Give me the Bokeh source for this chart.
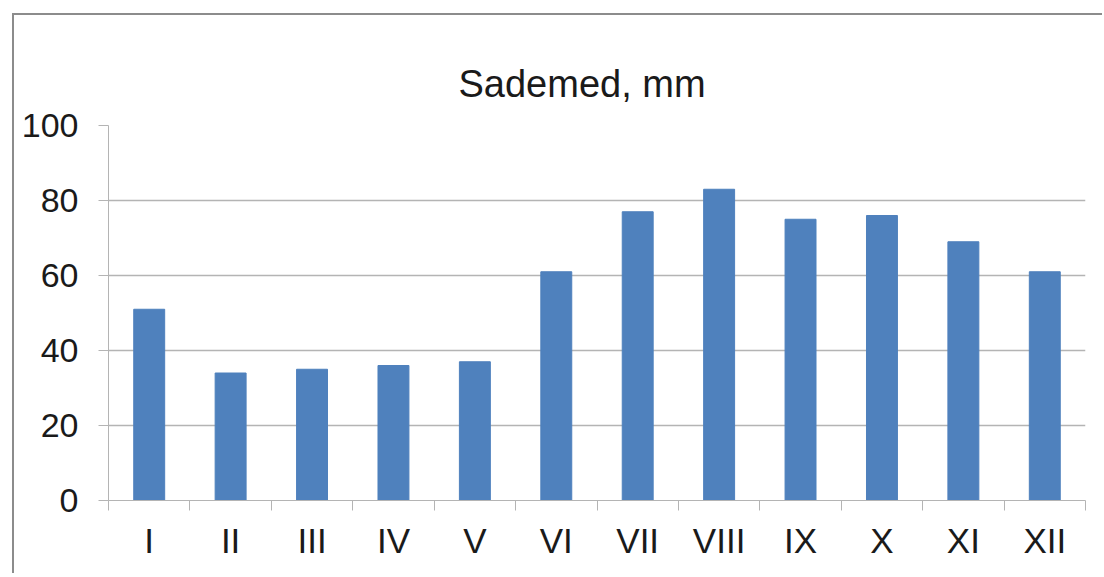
from bokeh.plotting import figure
from bokeh.models import Range1d, FixedTicker, Title
from bokeh.embed import file_html
from bokeh.resources import INLINE

categories = ["I", "II", "III", "IV", "V", "VI", "VII", "VIII", "IX", "X", "XI", "XII"]
values = [51, 34, 35, 36, 37, 61, 77, 83, 75, 76, 69, 61]
y_ticks = [0, 20, 40, 60, 80, 100]
title_text = "Sademed, mm"

FONT = "Liberation Sans"
TEXT = "#1a1a1a"
GRID = "#b4b4b4"

n = len(categories)
xs = [i + 0.5 for i in range(n)]

p = figure(width=1090, height=560, output_backend="svg", toolbar_location=None,
           x_range=Range1d(0, n), y_range=Range1d(0, 100),
           min_border_left=94, min_border_right=19, min_border_top=110,
           min_border_bottom=75, outline_line_color=None)
p.styles = {"border-top": "2px solid #8c8c8c", "border-left": "2px solid #8c8c8c",
            "margin-left": "12px", "margin-top": "13px"}

t = Title(text=title_text, align="left", text_font=FONT, text_font_size="38px",
          text_font_style="normal", text_color=TEXT, standoff=42, offset=350)
p.add_layout(t, "above")

p.vbar(x=xs, top=values, width=0.38, color="#4f81bd")

# x axis: labels at centers, tick marks at category boundaries
p.xaxis.ticker = FixedTicker(ticks=xs, minor_ticks=list(range(n + 1)))
p.xaxis.major_label_overrides = {x: c for x, c in zip(xs, categories)}
p.xaxis.major_tick_line_color = None
p.xaxis.minor_tick_in = 0
p.xaxis.minor_tick_out = 10
p.xaxis.minor_tick_line_color = GRID
p.xaxis.axis_line_color = GRID
p.xaxis.major_label_text_font = FONT
p.xaxis.major_label_text_font_size = "35px"
p.xaxis.major_label_text_color = TEXT
p.xaxis.major_label_standoff = 10
p.xgrid.grid_line_color = None

p.yaxis.ticker = FixedTicker(ticks=y_ticks)
p.yaxis.major_tick_in = 0
p.yaxis.major_tick_out = 10
p.yaxis.major_tick_line_color = GRID
p.yaxis.minor_tick_line_color = None
p.yaxis.axis_line_color = GRID
p.yaxis.major_label_text_font = FONT
p.yaxis.major_label_text_font_size = "34px"
p.yaxis.major_label_text_color = TEXT
p.yaxis.major_label_standoff = 20
p.ygrid.grid_line_color = GRID
p.ygrid.grid_line_width = 1.5

open("out.html", "w").write(file_html(p, INLINE))
